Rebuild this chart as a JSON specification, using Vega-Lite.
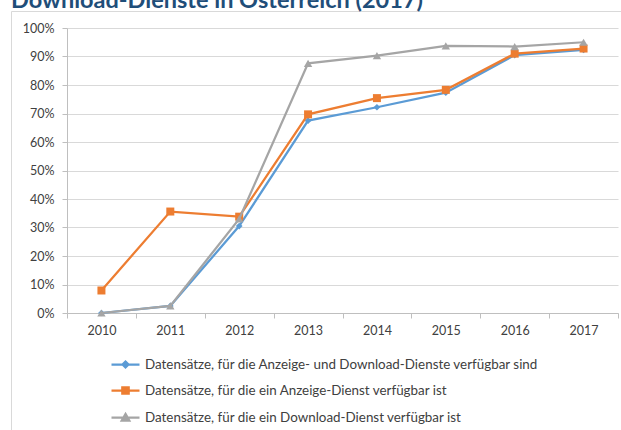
{
  "$schema": "https://vega.github.io/schema/vega-lite/v6.json",
  "width": 610,
  "height": 419,
  "autosize": {"type": "none"},
  "padding": {"left": 11, "top": 11, "right": 0, "bottom": 0},
  "background": "white",
  "config": {
    "view": {"stroke": "#D9D9D9", "strokeWidth": 1},
    "font": "Lato",
    "axis": {
      "labelFont": "Lato",
      "labelFontSize": 12.5,
      "labelColor": "#404040",
      "domainColor": "#BFBFBF",
      "tickColor": "#BFBFBF",
      "gridColor": "#D9D9D9",
      "tickSize": 5,
      "title": null
    }
  },
  "title": {
    "text": "Download-Dienste in Österreich (2017)",
    "anchor": "start",
    "frame": "group",
    "orient": "top",
    "offset": -20,
    "baseline": "alphabetic",
    "font": "Lato",
    "fontSize": 23.5,
    "fontWeight": "bold",
    "color": "#1F4E79"
  },
  "data": {
    "values": [
      {"year": "2010", "series": "Datensätze, für die Anzeige- und Download-Dienste verfügbar sind", "value": 0},
      {"year": "2011", "series": "Datensätze, für die Anzeige- und Download-Dienste verfügbar sind", "value": 0.025},
      {"year": "2012", "series": "Datensätze, für die Anzeige- und Download-Dienste verfügbar sind", "value": 0.305},
      {"year": "2013", "series": "Datensätze, für die Anzeige- und Download-Dienste verfügbar sind", "value": 0.675},
      {"year": "2014", "series": "Datensätze, für die Anzeige- und Download-Dienste verfügbar sind", "value": 0.722},
      {"year": "2015", "series": "Datensätze, für die Anzeige- und Download-Dienste verfügbar sind", "value": 0.773},
      {"year": "2016", "series": "Datensätze, für die Anzeige- und Download-Dienste verfügbar sind", "value": 0.905},
      {"year": "2017", "series": "Datensätze, für die Anzeige- und Download-Dienste verfügbar sind", "value": 0.923},
      {"year": "2010", "series": "Datensätze, für die ein Anzeige-Dienst verfügbar ist", "value": 0.079},
      {"year": "2011", "series": "Datensätze, für die ein Anzeige-Dienst verfügbar ist", "value": 0.356},
      {"year": "2012", "series": "Datensätze, für die ein Anzeige-Dienst verfügbar ist", "value": 0.338},
      {"year": "2013", "series": "Datensätze, für die ein Anzeige-Dienst verfügbar ist", "value": 0.697},
      {"year": "2014", "series": "Datensätze, für die ein Anzeige-Dienst verfügbar ist", "value": 0.754},
      {"year": "2015", "series": "Datensätze, für die ein Anzeige-Dienst verfügbar ist", "value": 0.783},
      {"year": "2016", "series": "Datensätze, für die ein Anzeige-Dienst verfügbar ist", "value": 0.91},
      {"year": "2017", "series": "Datensätze, für die ein Anzeige-Dienst verfügbar ist", "value": 0.928},
      {"year": "2010", "series": "Datensätze, für die ein Download-Dienst verfügbar ist", "value": 0},
      {"year": "2011", "series": "Datensätze, für die ein Download-Dienst verfügbar ist", "value": 0.025},
      {"year": "2012", "series": "Datensätze, für die ein Download-Dienst verfügbar ist", "value": 0.33},
      {"year": "2013", "series": "Datensätze, für die ein Download-Dienst verfügbar ist", "value": 0.876},
      {"year": "2014", "series": "Datensätze, für die ein Download-Dienst verfügbar ist", "value": 0.903},
      {"year": "2015", "series": "Datensätze, für die ein Download-Dienst verfügbar ist", "value": 0.937},
      {"year": "2016", "series": "Datensätze, für die ein Download-Dienst verfügbar ist", "value": 0.935},
      {"year": "2017", "series": "Datensätze, für die ein Download-Dienst verfügbar ist", "value": 0.95}
    ]
  },
  "encoding": {
    "x": {
      "field": "year",
      "type": "ordinal",
      "bandPosition": 0.5,
      "scale": {"type": "band", "range": [56, 607], "paddingInner": 0, "paddingOuter": 0},
      "axis": {"orient": "bottom", "offset": -117, "tickBand": "extent", "labelAngle": 0, "labelPadding": 6, "grid": false}
    },
    "y": {
      "field": "value",
      "type": "quantitative",
      "scale": {"domain": [0, 1], "range": [302, 17]},
      "axis": {"orient": "left", "offset": -56, "values": [0, 0.1, 0.2, 0.3, 0.4, 0.5, 0.6, 0.7, 0.8, 0.9, 1], "format": ".0%", "labelPadding": 8, "grid": true}
    }
  },
  "layer": [
    {
      "transform": [{"filter": "datum.series === 'Datensätze, für die Anzeige- und Download-Dienste verfügbar sind'"}],
      "mark": {"type": "line", "color": "#5B9BD5", "strokeWidth": 2.25}
    },
    {
      "transform": [{"filter": "datum.series === 'Datensätze, für die Anzeige- und Download-Dienste verfügbar sind'"}],
      "mark": {"type": "point", "filled": true, "opacity": 1, "shape": "diamond", "size": 45, "color": "#5B9BD5"}
    },
    {
      "transform": [{"filter": "datum.series === 'Datensätze, für die ein Anzeige-Dienst verfügbar ist'"}],
      "mark": {"type": "line", "color": "#ED7D31", "strokeWidth": 2.25}
    },
    {
      "transform": [{"filter": "datum.series === 'Datensätze, für die ein Anzeige-Dienst verfügbar ist'"}],
      "mark": {"type": "point", "filled": true, "opacity": 1, "shape": "square", "size": 64, "color": "#ED7D31"}
    },
    {
      "transform": [{"filter": "datum.series === 'Datensätze, für die ein Download-Dienst verfügbar ist'"}],
      "mark": {"type": "line", "color": "#A5A5A5", "strokeWidth": 2.25}
    },
    {
      "transform": [{"filter": "datum.series === 'Datensätze, für die ein Download-Dienst verfügbar ist'"}],
      "mark": {"type": "point", "filled": true, "opacity": 1, "shape": "triangle-up", "size": 70, "color": "#A5A5A5"}
    },
    {
      "transform": [{"filter": "datum.value < 0"}],
      "mark": {"type": "point", "filled": true},
      "encoding": {
        "shape": {
          "field": "series", "type": "nominal",
          "scale": {
            "domain": ["Datensätze, für die Anzeige- und Download-Dienste verfügbar sind", "Datensätze, für die ein Anzeige-Dienst verfügbar ist", "Datensätze, für die ein Download-Dienst verfügbar ist"],
            "range": ["M-1.4,0H1.4M0,-0.3L0.3,0L0,0.3L-0.3,0Z", "M-1.4,0H1.4M-0.32,-0.32H0.32V0.32H-0.32Z", "M-1.4,0H1.4M0,-0.36L0.38,0.3H-0.38Z"]
          },
          "legend": {"orient": "none", "legendX": 103, "legendY": 342, "title": null, "symbolSize": 400, "symbolStrokeWidth": 2.25, "symbolOpacity": 1, "labelFont": "Lato", "labelFontSize": 13.4, "labelColor": "#404040", "labelOffset": 8, "rowPadding": 7, "padding": 0, "labelLimit": 0, "direction": "vertical"}
        },
        "fill": {
          "field": "series", "type": "nominal",
          "scale": {
            "domain": ["Datensätze, für die Anzeige- und Download-Dienste verfügbar sind", "Datensätze, für die ein Anzeige-Dienst verfügbar ist", "Datensätze, für die ein Download-Dienst verfügbar ist"],
            "range": ["#5B9BD5", "#ED7D31", "#A5A5A5"]
          },
          "legend": {"orient": "none", "legendX": 103, "legendY": 342, "title": null, "symbolSize": 400, "symbolStrokeWidth": 2.25, "symbolOpacity": 1, "labelFont": "Lato", "labelFontSize": 13.4, "labelColor": "#404040", "labelOffset": 8, "rowPadding": 7, "padding": 0, "labelLimit": 0, "direction": "vertical"}
        },
        "stroke": {
          "field": "series", "type": "nominal",
          "scale": {
            "domain": ["Datensätze, für die Anzeige- und Download-Dienste verfügbar sind", "Datensätze, für die ein Anzeige-Dienst verfügbar ist", "Datensätze, für die ein Download-Dienst verfügbar ist"],
            "range": ["#5B9BD5", "#ED7D31", "#A5A5A5"]
          },
          "legend": {"orient": "none", "legendX": 103, "legendY": 342, "title": null, "symbolSize": 400, "symbolStrokeWidth": 2.25, "symbolOpacity": 1, "labelFont": "Lato", "labelFontSize": 13.4, "labelColor": "#404040", "labelOffset": 8, "rowPadding": 7, "padding": 0, "labelLimit": 0, "direction": "vertical"}
        }
      }
    }
  ]
}
